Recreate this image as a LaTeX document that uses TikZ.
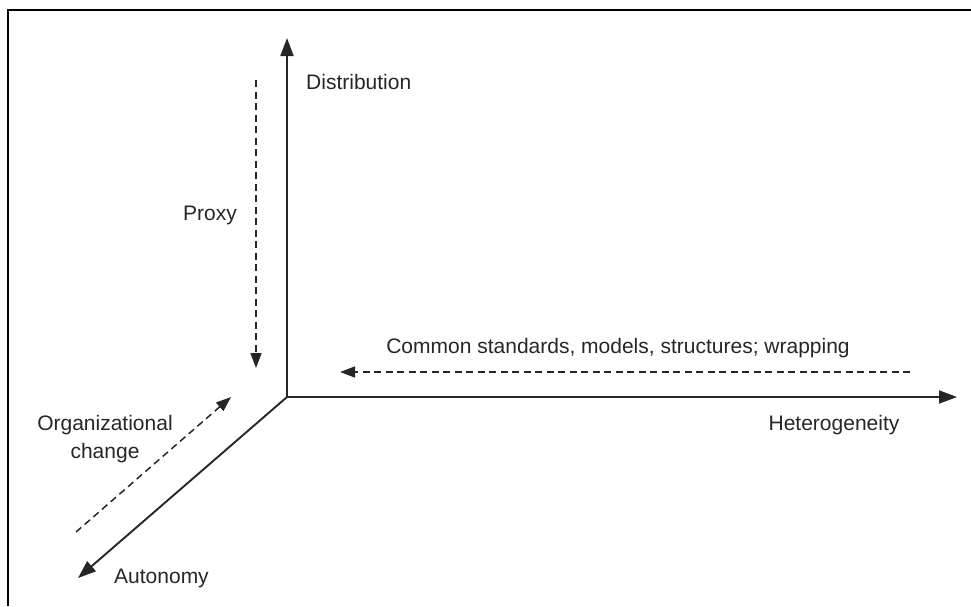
\documentclass[tikz,border=0pt]{standalone}
\usepackage{fontspec}
\setmainfont{Liberation Sans}
\usetikzlibrary{arrows.meta}
\begin{document}
\begin{tikzpicture}[x=1pt,y=-1pt,
  every node/.style={inner sep=0pt,text=black!85,font=\fontsize{21}{25}\selectfont},
  axis/.style={line width=1.9pt,draw=black!85,-{Triangle[length=18pt,width=13pt]}},
  trend/.style={line width=1.5pt,draw=black!85,dash pattern=on 7pt off 4.5pt,-{Triangle[length=15pt,width=11pt]}},
  frameline/.style={line width=2pt,draw=black}]
\useasboundingbox (0,0) rectangle (971,606);
% open frame: top and left edges only
\draw[frameline] (8,606) -- (8,10) -- (971,10);

% axes from the common origin
\coordinate (O) at (287,397);
\coordinate (distTip) at (287,38);
\coordinate (hetTip) at (957,397);
\coordinate (autTip) at (78,578);
\draw[axis] (O) -- (distTip);
\draw[axis] (O) -- (hetTip);
\draw[axis] (O) -- (autTip);

% axis labels
\node[anchor=west] (dist) at (306,82) {Distribution};
\node (het) at (834,425) {Heterogeneity};
\node[anchor=west] (aut) at (114,578) {Autonomy};

% dashed trend arrows and their labels
\coordinate (proxyStart) at (256,80);
\coordinate (proxyEnd) at (256,368);
\draw[trend] (proxyStart) -- (proxyEnd);
\node (proxy) at (210,215) {Proxy};

\coordinate (stdStart) at (910,372);
\coordinate (stdEnd) at (340,372);
\draw[trend] (stdStart) -- (stdEnd);
\node (std) at (618,348) {Common standards, models, structures; wrapping};

\coordinate (orgStart) at (76,532);
\coordinate (orgEnd) at (231,397);
\draw[trend] (orgStart) -- (orgEnd);
\node[align=center] (org) at (105,439) {Organizational\\[3pt]change};
\end{tikzpicture}
\end{document}
